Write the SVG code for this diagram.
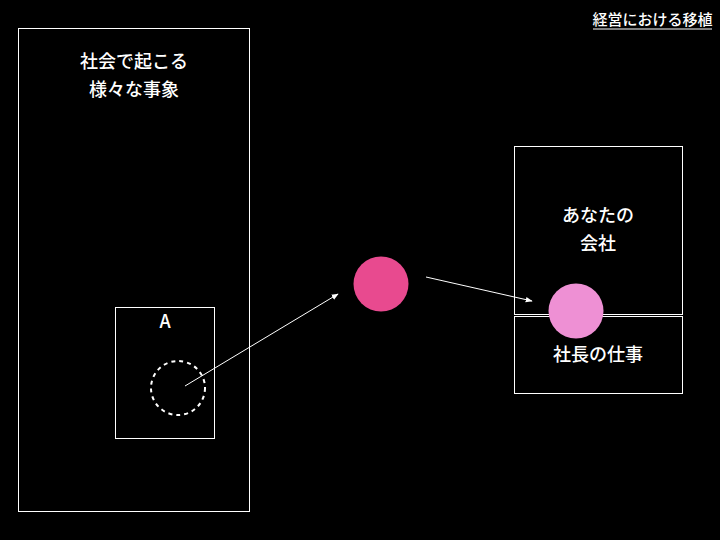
<svg xmlns="http://www.w3.org/2000/svg" width="720" height="540" viewBox="0 0 720 540">
<style>
.box{fill:none;stroke:#ffffff;stroke-width:1}
.t{fill:#ffffff;font-family:"Noto Sans CJK JP","Liberation Sans",sans-serif;font-size:18px;font-weight:500;text-anchor:middle}
.c{stroke:#ffffff;stroke-width:1;fill:none}
</style>
<defs>
<marker id="ah" viewBox="0 0 10 10" refX="9" refY="5" markerWidth="7" markerHeight="7" orient="auto" markerUnits="userSpaceOnUse">
<path d="M0,1 L10,5 L0,9 z" fill="#ffffff"/>
</marker>
</defs>
<rect width="720" height="540" fill="#000000"/>
<g id="title">
<text x="652.5" y="25" fill="#ffffff" font-family="Noto Sans CJK JP,Liberation Sans,sans-serif" font-size="15" font-weight="500" text-anchor="middle">経営における移植</text>
<line x1="593" y1="29" x2="712" y2="29" stroke="#ffffff" stroke-width="1"/>
</g>
<g id="society">
<rect class="box" x="18.5" y="28.5" width="231" height="483"/>
<text class="t" x="134" y="68">社会で起こる</text>
<text class="t" x="134" y="96">様々な事象</text>
</g>
<g id="A">
<rect class="box" x="115.5" y="307.5" width="99" height="131"/>
<text class="t" x="165" y="328" font-size="15" font-weight="bold">A</text>
<circle cx="178" cy="388" r="27" fill="none" stroke="#ffffff" stroke-width="2" stroke-dasharray="4,4"/>
</g>
<g id="transfer">
<circle cx="381" cy="284" r="27.5" fill="#E84A8F"/>
</g>
<g id="company">
<rect class="box" x="514.5" y="146.5" width="168" height="168"/>
<text class="t" x="598" y="222">あなたの</text>
<text class="t" x="598" y="250">会社</text>
</g>
<g id="president">
<rect class="box" x="514.5" y="316.5" width="168" height="77"/>
<text class="t" x="598" y="361">社長の仕事</text>
</g>
<g id="transplanted">
<circle cx="576" cy="311" r="27.5" fill="#EE90D4"/>
</g>
<g id="connectors">
<line class="c" x1="185" y1="386" x2="338" y2="294" marker-end="url(#ah)"/>
<line class="c" x1="426" y1="277" x2="532" y2="301" marker-end="url(#ah)"/>
</g>
</svg>
